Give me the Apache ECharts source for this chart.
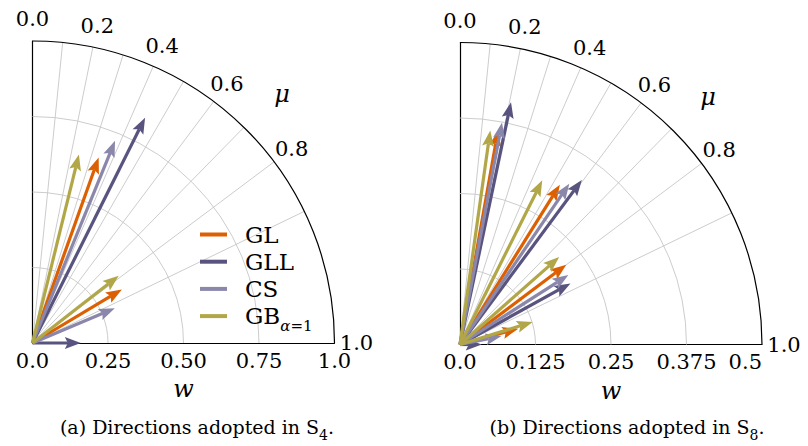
<!DOCTYPE html>
<html><head><meta charset="utf-8">
<script src="https://cdn.jsdelivr.net/npm/echarts@6/dist/echarts.min.js"></script>
<style>html,body{margin:0;padding:0;background:#fff}#c{width:808px;height:446px}</style>
</head><body><div id="c"></div>
<script>
// ---------- data ----------
const methods = ['GL', 'GLL', 'CS', 'GB'];
// S4 panel: direction cosine mu and weight w
const s4_GL_mu  = [0.336, 0.858]; const s4_GL_w  = [0.652, 0.345];
const s4_GLL_mu = [0.447, 1.000]; const s4_GLL_w = [0.834, 0.160];
const s4_CS_mu  = [0.378, 0.921]; const s4_CS_w  = [0.723, 0.296];
const s4_GB_mu  = [0.239, 0.789]; const s4_GB_w  = [0.643, 0.362];
// S8 panel
const s8_GL_mu  = [0.175, 0.530, 0.800, 0.965]; const s8_GL_w  = [0.360, 0.312, 0.220, 0.100];
const s8_GLL_mu = [0.206, 0.595, 0.875, 1.000]; const s8_GLL_w = [0.410, 0.339, 0.209, 0.036];
const s8_CS_mu  = [0.186, 0.562, 0.842, 0.980]; const s8_CS_w  = [0.374, 0.322, 0.213, 0.070];
const s8_GB_mu  = [0.140, 0.448, 0.750, 0.955]; const s8_GB_w  = [0.358, 0.304, 0.219, 0.126];
// axes
const s4_wTicks = ['0.0', '0.25', '0.50', '0.75', '1.0'];
const s8_wTicks = ['0.0', '0.125', '0.25', '0.375', '0.5'];
const s4_wMax = 1.0, s8_wMax = 0.5;
const s4_arcs = [0.25, 0.5, 0.75];
const s8_arcs = [0.125, 0.25, 0.375];
const muGrid = [0.1, 0.2, 0.3, 0.4, 0.5, 0.6, 0.7, 0.8, 0.9];
const muTickValues = [0.0, 0.2, 0.4, 0.6, 0.8, 1.0];
const muTickLabels = ['0.0', '0.2', '0.4', '0.6', '0.8', '1.0'];

// ---------- style ----------
const FONT = '"DejaVu Serif", serif';
const colors = { GL: '#dc6002', GLL: '#58547f', CS: '#8a87ab', GB: '#b2a748' };
const GRID_GRAY = '#c6c6c6';

const chart = echarts.init(document.getElementById('c'), null, { renderer: 'svg' });

function dirPoint(mu, r) { return [r * mu, r * Math.sqrt(Math.max(0, 1 - mu * mu))]; }

function radialSeries(gi, wMax) {
  return {
    type: 'custom', coordinateSystem: 'cartesian2d', xAxisIndex: gi, yAxisIndex: gi, silent: true,
    data: muGrid.map(m => [m]),
    encode: { x: 0 },
    renderItem(params, api) {
      const o = api.coord([0, 0]);
      const e = api.coord(dirPoint(api.value(0), wMax));
      return { type: 'line', shape: { x1: o[0], y1: o[1], x2: e[0], y2: e[1] },
               style: { stroke: GRID_GRAY, lineWidth: 0.9 } };
    }
  };
}
function arcSeries(gi, radii, color, lw) {
  return {
    type: 'custom', coordinateSystem: 'cartesian2d', xAxisIndex: gi, yAxisIndex: gi, silent: true,
    data: radii.map(r => [r]),
    encode: { x: 0 },
    renderItem(params, api) {
      const o = api.coord([0, 0]);
      const r = api.size([api.value(0), 0])[0];
      return { type: 'arc', shape: { cx: o[0], cy: o[1], r: r, startAngle: -Math.PI / 2, endAngle: 0, clockwise: true },
               style: { stroke: color, lineWidth: lw, fill: null } };
    }
  };
}
function muLabelSeries(gi, wMax) {
  return {
    type: 'custom', coordinateSystem: 'cartesian2d', xAxisIndex: gi, yAxisIndex: gi, silent: true,
    data: muTickValues.map((m, i) => [m, i]),
    encode: { x: 0 },
    renderItem(params, api) {
      const m = api.value(0);
      const o = api.coord([0, 0]);
      const R = api.size([wMax, 0])[0] + 22;
      return { type: 'text', x: o[0] + R * m, y: o[1] - R * Math.sqrt(Math.max(0, 1 - m * m)),
               style: { text: muTickLabels[api.value(1)], fill: '#000', fontSize: 21, fontFamily: FONT,
                        align: 'center', verticalAlign: 'middle' } };
    }
  };
}
function arrowSeries(name, mu, w, gi) {
  return {
    type: 'custom', name: name, coordinateSystem: 'cartesian2d', xAxisIndex: gi, yAxisIndex: gi, silent: true,
    itemStyle: { color: colors[name] },
    data: mu.map((m, i) => [m, w[i]]),
    encode: { x: 0, y: 1 },
    renderItem(params, api) {
      const m = api.value(0), ww = api.value(1);
      const o = api.coord([0, 0]);
      const t = api.coord(dirPoint(m, ww));
      const dx = t[0] - o[0], dy = t[1] - o[1];
      const len = Math.hypot(dx, dy);
      const ux = dx / len, uy = dy / len, nx = -uy, ny = ux;
      const L = Math.min(16, len), W = 12, N = 3;
      const bx = t[0] - ux * L, by = t[1] - uy * L;
      const kx = t[0] - ux * (L - N), ky = t[1] - uy * (L - N);
      const c = colors[name];
      return { type: 'group', children: [
        { type: 'line', shape: { x1: o[0], y1: o[1], x2: kx, y2: ky }, style: { stroke: c, lineWidth: 3.2 } },
        { type: 'polygon', shape: { points: [[t[0], t[1]], [bx + nx * W / 2, by + ny * W / 2], [kx, ky], [bx - nx * W / 2, by - ny * W / 2]] },
          style: { fill: c } }
      ] };
    }
  };
}

function xAxisCfg(gi, max, ticks, alignMax) {
  return {
    gridIndex: gi, type: 'value', min: 0, max: max, interval: max / 4,
    axisLine: { show: true, onZero: false, lineStyle: { color: '#000', width: 1.2 } },
    axisTick: { show: false }, splitLine: { show: false },
    axisLabel: { margin: 7, color: '#000', fontSize: 21, fontFamily: FONT,
                 formatter: (v, i) => ticks[Math.round(v / (max / 4))],
                 alignMaxLabel: alignMax ? 'right' : null },
    name: 'w', nameLocation: 'middle', nameGap: 34,
    nameTextStyle: { color: '#000', fontSize: 24, fontFamily: FONT, fontStyle: 'italic' }
  };
}
function yAxisCfg(gi) {
  return {
    gridIndex: gi, type: 'value', min: 0, max: gi === 0 ? s4_wMax : s8_wMax,
    axisLine: { show: true, onZero: false, lineStyle: { color: '#000', width: 1.2 } },
    axisTick: { show: false }, axisLabel: { show: false }, splitLine: { show: false }
  };
}

const series = [];
[[0, s4_wMax, s4_arcs], [1, s8_wMax, s8_arcs]].forEach(([gi, wMax, arcs]) => {
  series.push(radialSeries(gi, wMax));
  series.push(arcSeries(gi, arcs, GRID_GRAY, 0.9));
  series.push(arcSeries(gi, [wMax], '#000', 1.2));
  series.push(muLabelSeries(gi, wMax));
});
series.push(arrowSeries('GL', s4_GL_mu, s4_GL_w, 0));
series.push(arrowSeries('GLL', s4_GLL_mu, s4_GLL_w, 0));
series.push(arrowSeries('CS', s4_CS_mu, s4_CS_w, 0));
series.push(arrowSeries('GB', s4_GB_mu, s4_GB_w, 0));
series.push(arrowSeries('GL', s8_GL_mu, s8_GL_w, 1));
series.push(arrowSeries('GLL', s8_GLL_mu, s8_GLL_w, 1));
series.push(arrowSeries('CS', s8_CS_mu, s8_CS_w, 1));
series.push(arrowSeries('GB', s8_GB_mu, s8_GB_w, 1));

const option = {
  animation: false,
  backgroundColor: '#fff',
  grid: [
    { left: 32.5, top: 41, width: 302, height: 302 },
    { left: 460, top: 42.5, width: 302, height: 302 }
  ],
  xAxis: [xAxisCfg(0, s4_wMax, s4_wTicks, false), xAxisCfg(1, s8_wMax, s8_wTicks, true)],
  yAxis: [yAxisCfg(0), yAxisCfg(1)],
  legend: {
    data: methods, orient: 'vertical', left: 195, top: 217.5, itemWidth: 27, itemHeight: 4, itemGap: 3.2,
    icon: 'rect', selectedMode: false,
    formatter: n => n === 'GB' ? '{m|GB}{si|α}{s|=1}' : '{m|' + n + '}',
    textStyle: {
      lineHeight: 24,
      rich: {
        m: { fontFamily: FONT, fontSize: 23, lineHeight: 24, padding: [0, 0, 0, 13], color: '#000' },
        si: { fontFamily: FONT, fontSize: 15, fontStyle: 'italic', lineHeight: 10, padding: [14, 0, 0, 0], verticalAlign: 'top', color: '#000' },
        s: { fontFamily: FONT, fontSize: 15, lineHeight: 10, padding: [14, 0, 0, 0], verticalAlign: 'top', color: '#000' }
      }
    }
  },
  graphic: [
    { type: 'text', x: 282, y: 94, style: { text: 'μ', fill: '#000', fontSize: 24, fontFamily: FONT, fontStyle: 'italic', align: 'center', verticalAlign: 'middle' } },
    { type: 'text', x: 708, y: 97, style: { text: 'μ', fill: '#000', fontSize: 24, fontFamily: FONT, fontStyle: 'italic', align: 'center', verticalAlign: 'middle' } },
    { type: 'text', x: 197, y: 427, style: { text: '(a) Directions adopted in S{s|4}.', fill: '#000', fontSize: 19, fontFamily: FONT, align: 'center', verticalAlign: 'middle',
        rich: { s: { fontSize: 14, fontFamily: FONT, lineHeight: 10, padding: [10, 0, 0, 0], verticalAlign: 'top' } } } },
    { type: 'text', x: 627, y: 427, style: { text: '(b) Directions adopted in S{s|8}.', fill: '#000', fontSize: 19, fontFamily: FONT, align: 'center', verticalAlign: 'middle',
        rich: { s: { fontSize: 14, fontFamily: FONT, lineHeight: 10, padding: [10, 0, 0, 0], verticalAlign: 'top' } } } }
  ],
  series: series
};
chart.setOption(option);
</script>
</body></html>
